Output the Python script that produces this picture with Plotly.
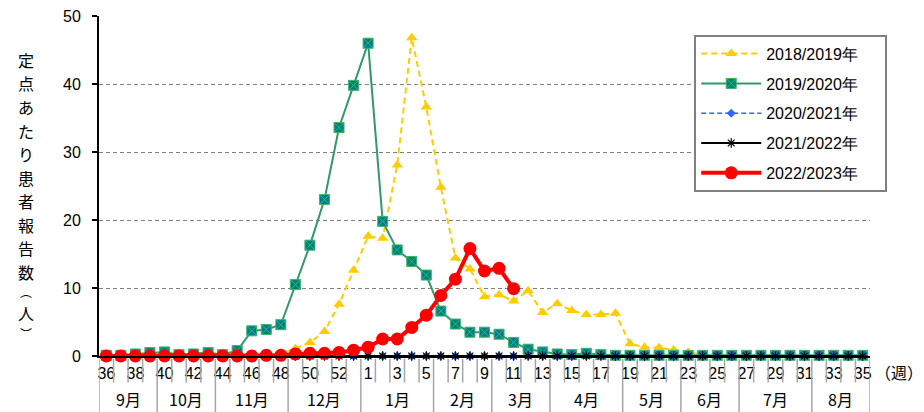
import plotly.graph_objects as go

# ---- data ----
weeks = list(range(36, 54)) + list(range(1, 36))  # 53 weekly categories
week_labels = [str(w) for w in weeks]

months = ["9月", "10月", "11月", "12月", "1月", "2月", "3月", "4月", "5月", "6月", "7月", "8月"]
month_week_counts = [4, 4, 5, 5, 5, 4, 4, 5, 4, 4, 5, 4]

series_names = ["2018/2019年", "2019/2020年", "2020/2021年", "2021/2022年", "2022/2023年"]
y_title = "定点あたり患者報告数︵人︶"

s2018_2019 = [0, 0, 0, 0, 0, 0, 0, 0, 0.1, 0.1, 0.1, 0.2, 0.4,
              1.1, 2.0, 3.6, 7.6, 12.6, 17.6, 17.3, 28.1, 46.8, 36.6, 24.8, 14.4,
              12.8, 8.7, 9.0, 8.1, 9.6, 6.4, 7.7, 6.7, 6.1, 6.1, 6.3, 1.8,
              1.3, 1.2, 0.9, 0.5, 0.2, 0.1, 0, 0, 0, 0, 0, 0, 0, 0, 0, 0]
s2019_2020 = [0.1, 0.1, 0.3, 0.5, 0.6, 0.2, 0.3, 0.5, 0.2, 0.8, 3.7, 3.9, 4.6,
              10.5, 16.3, 23.0, 33.6, 39.8, 46.0, 19.8, 15.6, 13.9, 11.9, 6.6, 4.7,
              3.5, 3.5, 3.2, 2.0, 1.0, 0.6, 0.3, 0.2, 0.4, 0.2, 0.1, 0.1,
              0.1, 0.1, 0.1, 0.1, 0.1, 0.1, 0.1, 0.1, 0.1, 0.1, 0.1, 0.1, 0.1, 0.1, 0.1, 0.1]
s2020_2021 = [0] * 53
s2021_2022 = [0] * 53
s2022_2023 = [0, 0, 0, 0, 0, 0, 0, 0, 0, 0, 0, 0.1, 0.1, 0.3, 0.4, 0.4, 0.5,
              0.85, 1.3, 2.5, 2.5, 4.2, 6.0, 8.9, 11.3, 15.8, 12.5, 12.9, 9.9]

y_ticks = [0, 10, 20, 30, 40, 50]

# ---- figure ----
idx = list(range(len(weeks)))
fig = go.Figure()

styles = [
    dict(line=dict(color="#FFCC00", width=2, dash="6px,4px"),
         marker=dict(symbol="triangle-up", size=10, color="#FFCC00")),
    dict(line=dict(color="#339966", width=2),
         marker=dict(symbol="square-x", size=10, color="#008080",
                     line=dict(color="#3CB371", width=1))),
    dict(line=dict(color="#3366FF", width=1.5, dash="5px,3px"),
         marker=dict(symbol="diamond", size=7, color="#3366FF")),
    dict(line=dict(color="#000000", width=2),
         marker=dict(symbol="asterisk-open", size=8, color="#000000",
                     line=dict(color="#000000", width=1.2))),
    dict(line=dict(color="#FF0000", width=4),
         marker=dict(symbol="circle", size=13, color="#FF0000")),
]
all_series = [s2018_2019, s2019_2020, s2020_2021, s2021_2022, s2022_2023]
pad = "\u00a0" * 5
for i, (name, vals, st) in enumerate(zip(series_names, all_series, styles)):
    fig.add_trace(go.Scatter(
        x=idx[:len(vals)], y=vals, name=name + pad, mode="lines+markers",
        line=st["line"], marker=st["marker"], cliponaxis=False,
        legendgroup=f"g{i}"))

# category separators below the axis
shapes = []
month_bounds = [0]
for c in month_week_counts:
    month_bounds.append(month_bounds[-1] + c)
for k in range(len(weeks) + 1):
    long_line = k in month_bounds
    shapes.append(dict(type="line", xref="x", yref="paper",
                       x0=k - 0.5, x1=k - 0.5, y0=-0.008,
                       y1=-0.165 if long_line else -0.078,
                       line=dict(color="#A6A6A6", width=1.5)))

annotations = []
for m, a, b in zip(months, month_bounds[:-1], month_bounds[1:]):
    annotations.append(dict(text=m, xref="x", yref="paper", x=(a + b - 1) / 2, y=-0.127,
                            showarrow=False, xanchor="center", yanchor="middle",
                            font=dict(size=16, family="Noto Sans CJK JP", color="#000")))
annotations.append(dict(text="（週）", xref="paper", yref="paper", x=1.038, y=-0.047,
                        showarrow=False, xanchor="center", yanchor="middle",
                        font=dict(size=16, family="Noto Sans CJK JP", color="#000")))

# vertical (stacked) y-axis title, one character per line
plot_h = 340.0
char_pix = [60 + 23.5 * j for j in range(10)] + [291, 312.5, 333]
for ch, py in zip(y_title, char_pix):
    small = ch in "︵︶"
    annotations.append(dict(text=ch, xref="paper", yref="paper", x=-0.095,
                            y=(356 - py) / plot_h, showarrow=False,
                            xanchor="center", yanchor="middle",
                            font=dict(size=12 if small else 16,
                                      family="Noto Sans CJK JP", color="#000")))

fig.update_layout(
    width=924, height=412,
    margin=dict(l=99, r=54, t=16, b=56, autoexpand=False),
    paper_bgcolor="white", plot_bgcolor="white",
    showlegend=True,
    legend=dict(x=0.772, y=0.945, xanchor="left", yanchor="top",
                bgcolor="white", bordercolor="#808080", borderwidth=2,
                font=dict(size=16, family="Liberation Sans", color="#000"),
                tracegroupgap=6, itemwidth=60),
    shapes=shapes, annotations=annotations,
    font=dict(family="Liberation Sans", color="#000"),
)
fig.update_xaxes(range=[-0.5, len(weeks) - 0.5], tickmode="array",
                 tickvals=idx[::2], ticktext=week_labels[::2],
                 ticks="", showgrid=False, zeroline=False,
                 showline=True, linecolor="#000", linewidth=2,
                 tickfont=dict(size=16, family="Liberation Sans"), ticklabelstandoff=2)
fig.update_yaxes(range=[0, 50], tickmode="array", tickvals=y_ticks,
                 ticks="outside", ticklen=5, tickwidth=2, tickcolor="#000",
                 showline=True, linecolor="#000", linewidth=2,
                 showgrid=True, gridcolor="#808080", gridwidth=1, griddash="4px,3px",
                 zeroline=False, tickfont=dict(size=16, family="Liberation Sans"),
                 ticklabelstandoff=8)

fig.write_html("out.html", config={"displayModeBar": False},
               post_script="document.body.style.margin='0';document.body.style.overflow='hidden';")
